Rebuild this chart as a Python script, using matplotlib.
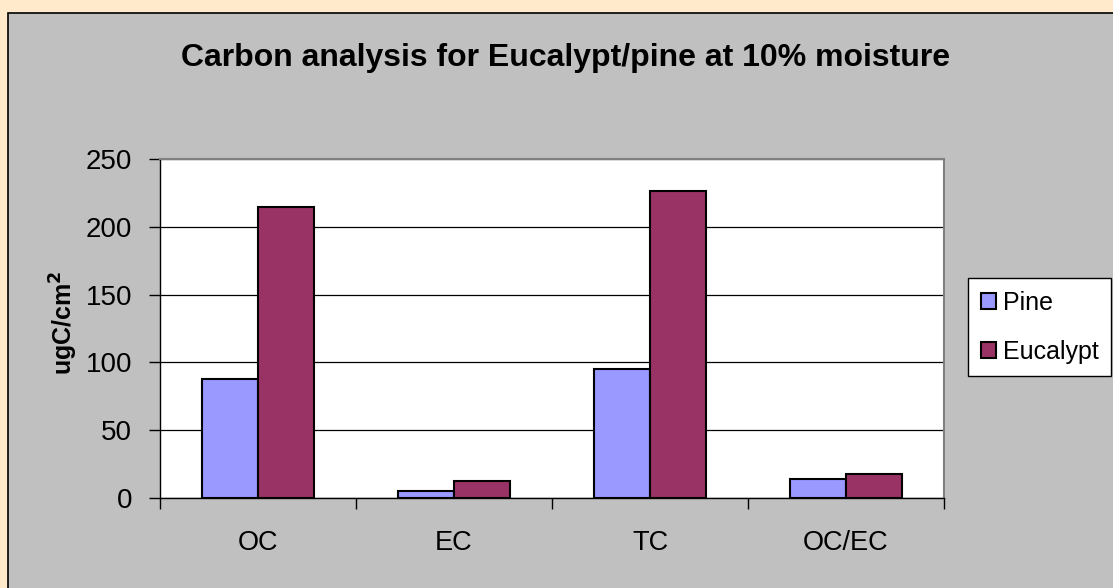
import matplotlib
matplotlib.use("Agg")
import matplotlib.pyplot as plt
from matplotlib.patches import Rectangle, Patch
import numpy as np

plt.rcParams['font.family'] = ['Liberation Sans', 'DejaVu Sans']

# Data
categories = ["OC", "EC", "TC", "OC/EC"]
pine = [87.5, 5.4, 95.1, 14.0]
eucalypt = [214.8, 12.5, 226.4, 17.7]
yticks = [0, 50, 100, 150, 200, 250]

W, H = 1113, 588
fig = plt.figure(figsize=(W / 100, H / 100), dpi=100)
fig.patch.set_facecolor("#FFEACB")

# grey chart area with black border
fig.patches.append(Rectangle((8 / W, -0.1), 1.2, (H - 13) / H + 0.1, transform=fig.transFigure,
                             facecolor="#C0C0C0", edgecolor="black", linewidth=1.2, zorder=0))

ax = fig.add_axes([160 / W, (H - 498) / H, (944 - 160) / W, (498 - 159) / H])
ax.set_zorder(2)
ax.set_facecolor("white")

x = np.arange(len(categories))
bw = 0.288
ax.bar(x - bw / 2, pine, bw, color="#9999FF", edgecolor="black", linewidth=1.5, label="Pine", zorder=3)
ax.bar(x + bw / 2, eucalypt, bw, color="#993366", edgecolor="black", linewidth=1.5, label="Eucalypt", zorder=3)

ax.set_xlim(-0.5, len(categories) - 0.5)
ax.set_ylim(0, 250)
ax.set_yticks(yticks)
ax.yaxis.grid(True, color="black", linewidth=0.9)
ax.set_axisbelow(True)

ax.set_xticks(x)
ax.set_xticklabels(categories)
ax.set_xticks(np.arange(-0.5, len(categories), 1), minor=True)
ax.tick_params(axis="x", which="major", length=0, pad=23, labelsize=19.5)
ax.tick_params(axis="x", which="minor", length=8, width=1, direction="out")
ax.tick_params(axis="y", length=8, width=1, direction="out", pad=12, labelsize=20)

for s in ["top", "right"]:
    ax.spines[s].set_color("#808080")
    ax.spines[s].set_linewidth(1.5)
for s in ["left", "bottom"]:
    ax.spines[s].set_color("black")
    ax.spines[s].set_linewidth(1)

fig.text(566 / W, 1 - 58 / H, "Carbon analysis for Eucalypt/pine at 10% moisture",
         ha="center", va="center", fontsize=23, fontweight="bold")
fig.text(64 / W, 1 - 323 / H, "ugC/cm$^{\\mathbf{2}}$", rotation=90,
         ha="center", va="center", fontsize=18, fontweight="bold")

handles = [Patch(facecolor="#9999FF", edgecolor="black", linewidth=1.5),
           Patch(facecolor="#993366", edgecolor="black", linewidth=1.5)]
leg = fig.legend(handles, ["Pine", "Eucalypt"], loc="center left",
                 bbox_to_anchor=(968 / W, 1 - 327 / H), bbox_transform=fig.transFigure,
                 fontsize=18, frameon=True, fancybox=False, framealpha=1, borderaxespad=0,
                 handlelength=0.6, handleheight=0.6, handletextpad=0.3,
                 labelspacing=1.0, borderpad=0.5)
leg.get_frame().set_edgecolor("black")
leg.get_frame().set_linewidth(1)
leg.get_frame().set_facecolor("white")

fig.savefig("out.png", dpi=100, facecolor=fig.get_facecolor())
